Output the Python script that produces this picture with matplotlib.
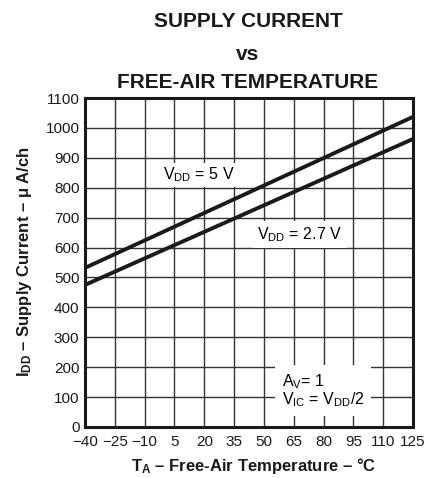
import matplotlib
matplotlib.use("Agg")
import matplotlib.pyplot as plt

temps = [-40, 125]
vdd5 = [532, 1037]
vdd27 = [475, 963]
xticks = [-40, -25, -10, 5, 20, 35, 50, 65, 80, 95, 110, 125]
yticks = list(range(0, 1101, 100))

plt.rcParams['font.family'] = ['Liberation Sans', 'DejaVu Sans']
plt.rcParams['mathtext.fontset'] = 'custom'
plt.rcParams['mathtext.rm'] = 'Liberation Sans'
plt.rcParams['mathtext.it'] = 'Liberation Sans'
plt.rcParams['mathtext.bf'] = 'Liberation Sans:bold'

fig = plt.figure(figsize=(4.46, 4.78), dpi=100)
ax = fig.add_axes([85/446, 1-427/478, 328/446, 329/478])

ax.plot(temps, vdd5, color='#1a1a1a', lw=2.8, solid_capstyle='butt', zorder=3)
ax.plot(temps, vdd27, color='#1a1a1a', lw=2.8, solid_capstyle='butt', zorder=3)

ax.set_xlim(-40, 125)
ax.set_ylim(0, 1100)
ax.set_xticks(xticks)
ax.set_yticks(yticks)
ax.set_xticklabels(['\u2212' + str(-t) if t < 0 else str(t) for t in xticks])
ax.tick_params(length=0, labelsize=11, colors='#1a1a1a')
ax.tick_params(axis='x', pad=6)
ax.tick_params(axis='y', pad=4)
ax.grid(True, color='#333333', lw=1.0)
ax.set_axisbelow(True)
for s in ax.spines.values():
    s.set_linewidth(2.2)
    s.set_color('#1a1a1a')

ax.text(17.5, 843, r'V$_{\mathrm{DD}}$ = 5 V', fontsize=11.5, ha='center', va='center',
        bbox=dict(facecolor='white', edgecolor='none', pad=2), zorder=4)
ax.text(68, 642, r'V$_{\mathrm{DD}}$ = 2.7 V', fontsize=11.5, ha='center', va='center',
        bbox=dict(facecolor='white', edgecolor='none', pad=3), zorder=4)
ax.text(59, 122, 'A$_{\\mathrm{V}}$= 1\nV$_{\\mathrm{IC}}$ = V$_{\\mathrm{DD}}$/2', fontsize=11.5,
        ha='left', va='center', linespacing=1.0,
        bbox=dict(facecolor='white', edgecolor='none', pad=5), zorder=4)

fig.text(248/446, 1-21.5/478, 'SUPPLY CURRENT', fontsize=15, fontweight='bold', ha='center', va='center', color='#1a1a1a')
fig.text(248/446, 1-54/478, 'vs', fontsize=15, fontweight='bold', ha='center', va='center', color='#1a1a1a')
fig.text(248/446, 1-82/478, 'FREE-AIR TEMPERATURE', fontsize=15, fontweight='bold', ha='center', va='center', color='#1a1a1a')

fig.text(254/446, 1-466/478, '$\\mathbf{T_A}$ \u2013 Free-Air Temperature \u2013 \u00b0C', fontsize=12,
         fontweight='bold', ha='center', va='center', color='#1a1a1a')
fig.text(25/446, 1-262/478, '$\\mathbf{I_{DD}}$ \u2013 Supply Current \u2013 \u03bc A/ch', fontsize=12,
         fontweight='bold', ha='center', va='center', rotation=90, color='#1a1a1a')

fig.savefig('out.png', dpi=100)
